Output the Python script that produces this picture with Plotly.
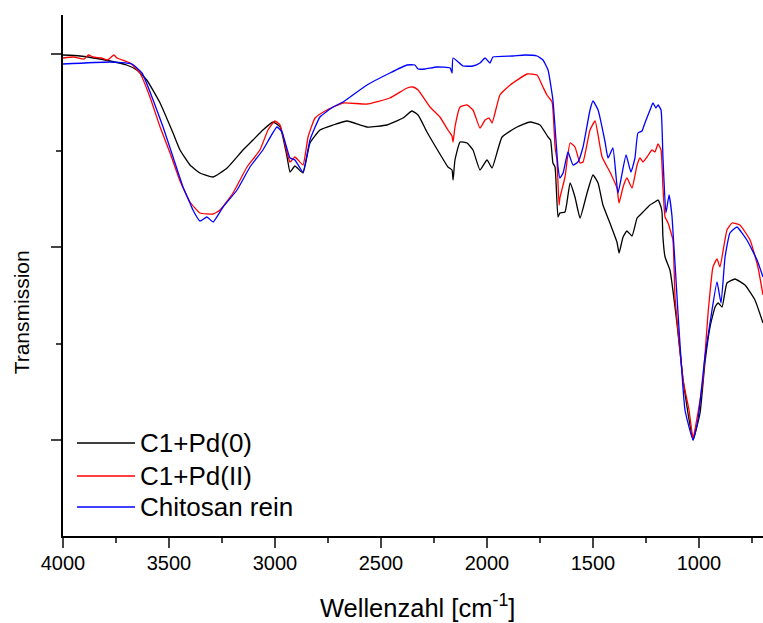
import plotly.graph_objects as go

# ---- data (wavenumber cm^-1, transmission in arbitrary units) ----
names = ["C1+Pd(0)", "C1+Pd(II)", "Chitosan rein"]
colors = ["#000000", "#ff0000", "#0000ff"]

wn_pd0 = [4000, 3920, 3778, 3700, 3652, 3605, 3542, 3481, 3448, 3401, 3354, 3292, 3226, 3151, 3104, 3057,
          3009, 2976, 2943, 2929, 2906, 2868, 2835, 2788, 2726, 2660, 2566, 2472, 2396, 2354, 2325, 2283,
          2222, 2184, 2165, 2160, 2151, 2127, 2094, 2066, 2033, 2000, 1976, 1929, 1858, 1797, 1750, 1712,
          1700, 1689, 1679, 1665, 1656, 1632, 1608, 1585, 1561, 1528, 1500, 1476, 1453, 1420, 1387, 1377,
          1358, 1340, 1316, 1292, 1278, 1264, 1231, 1208, 1193, 1179, 1174, 1170, 1160, 1137, 1104, 1075,
          1052, 1028, 995, 972, 948, 924, 910, 891, 868, 830, 783, 736, 698]
t_pd0 = [481, 480, 475, 471, 466, 456, 433, 403, 386, 371, 363, 359, 368, 386, 396, 406,
         414, 409, 379, 364, 370, 363, 393, 406, 411, 415, 409, 411, 418, 425, 421, 404,
         382, 369, 366, 356, 376, 394, 393, 386, 366, 376, 368, 399, 409, 414, 411, 399,
         396, 373, 369, 319, 323, 324, 353, 339, 318, 343, 361, 353, 331, 313, 294, 283,
         299, 305, 300, 318, 321, 324, 331, 334, 336, 329, 323, 299, 279, 266, 213, 156,
         123, 96, 123, 173, 209, 229, 233, 229, 253, 257, 251, 236, 213]

wn_pd2 = [4000, 3950, 3900, 3880, 3858, 3820, 3790, 3760, 3745, 3684, 3637, 3590, 3542, 3495, 3448, 3401,
          3354, 3292, 3259, 3198, 3132, 3071, 3033, 3000, 2976, 2943, 2929, 2906, 2868, 2844, 2811, 2755,
          2679, 2566, 2458, 2377, 2349, 2325, 2269, 2222, 2184, 2165, 2160, 2151, 2127, 2094, 2066, 2033,
          2009, 1990, 1976, 1939, 1891, 1811, 1764, 1736, 1717, 1693, 1679, 1670, 1660, 1656, 1632, 1608,
          1585, 1561, 1547, 1514, 1490, 1457, 1420, 1387, 1377, 1358, 1340, 1316, 1292, 1278, 1264, 1245,
          1222, 1208, 1193, 1179, 1170, 1160, 1146, 1123, 1113, 1075, 1047, 1028, 1005, 981, 957, 934,
          915, 901, 868, 844, 807, 759, 722, 698]
t_pd2 = [478, 479, 477, 481, 479, 478, 476, 481, 478, 473, 463, 439, 409, 383, 355, 334,
         323, 322, 326, 343, 369, 386, 406, 415, 411, 383, 374, 379, 371, 399, 418, 426,
         433, 432, 438, 448, 449, 446, 429, 419, 406, 400, 394, 409, 429, 431, 426, 408,
         416, 418, 413, 441, 451, 462, 461, 449, 441, 434, 389, 376, 331, 338, 359, 393,
         389, 373, 374, 406, 415, 379, 364, 348, 333, 349, 358, 348, 371, 378, 374, 379,
         386, 384, 392, 386, 349, 319, 313, 296, 239, 156, 126, 98, 123, 156, 223, 269,
         277, 269, 306, 313, 311, 296, 269, 241]

wn_chi = [4000, 3778, 3675, 3627, 3575, 3528, 3481, 3434, 3401, 3387, 3354, 3321, 3292, 3245, 3179, 3118,
          3057, 2991, 2967, 2929, 2906, 2868, 2835, 2788, 2726, 2679, 2566, 2458, 2377, 2340, 2325, 2292,
          2236, 2174, 2165, 2160, 2113, 2066, 2033, 2009, 1986, 1972, 1877, 1821, 1764, 1736, 1712, 1689,
          1665, 1656, 1641, 1618, 1594, 1571, 1547, 1514, 1500, 1476, 1443, 1429, 1406, 1382, 1344, 1321,
          1302, 1288, 1269, 1255, 1231, 1217, 1203, 1193, 1179, 1170, 1156, 1141, 1127, 1099, 1066, 1028,
          1005, 972, 948, 915, 896, 877, 854, 821, 774, 726, 698]
t_chi = [472, 474, 472, 463, 436, 409, 379, 349, 333, 326, 315, 319, 314, 329, 346, 369,
         386, 409, 404, 378, 376, 364, 396, 419, 429, 434, 451, 463, 471, 471, 467, 467,
         469, 468, 463, 478, 470, 470, 473, 478, 473, 479, 480, 481, 480, 476, 466, 436,
         369, 358, 363, 384, 371, 374, 389, 426, 435, 426, 394, 378, 388, 343, 381, 364,
         378, 403, 405, 413, 426, 433, 428, 431, 426, 379, 323, 341, 319, 223, 126, 96,
         116, 179, 213, 254, 233, 279, 303, 309, 296, 276, 259]

series_x = [wn_pd0, wn_pd2, wn_chi]
series_y = [t_pd0, t_pd2, t_chi]

x_range = [4000, 698]
x_ticks = [4000, 3500, 3000, 2500, 2000, 1500, 1000]

FONT = "Liberation Sans, Arial, sans-serif"

fig = go.Figure()
for name, col, xs, ys in zip(names, colors, series_x, series_y):
    fig.add_trace(go.Scatter(x=xs, y=ys, mode="lines", name=name,
                             line=dict(color=col, width=1.3, shape="spline", smoothing=0.4),
                             showlegend=False))

# custom legend (longer line samples, as in the original)
leg_y = [0.1785, 0.1152, 0.0557]
for name, col, yy in zip(names, colors, leg_y):
    fig.add_shape(type="line", xref="paper", yref="paper", x0=0.02, x1=0.1029, y0=yy, y1=yy,
                  line=dict(color=col, width=1.3))
    fig.add_annotation(xref="paper", yref="paper", x=0.107, y=yy, text=name, showarrow=False,
                       xanchor="left", yanchor="middle", font=dict(family=FONT, size=26, color="black"))

fig.add_annotation(xref="paper", yref="paper", x=-0.058, y=0.43, text="Transmission", textangle=-90,
                   showarrow=False, xanchor="center", yanchor="middle",
                   font=dict(family=FONT, size=21, color="black"))

fig.add_annotation(xref="paper", yref="paper", x=0.507, y=-0.135, text="Wellenzahl [cm<sup>-1</sup>]",
                   showarrow=False, xanchor="center", yanchor="middle",
                   font=dict(family=FONT, size=25.5, color="black"))

fig.update_layout(
    width=763, height=623,
    margin=dict(l=63, r=0, t=15, b=87),
    paper_bgcolor="white", plot_bgcolor="white",
    font=dict(family=FONT, color="black"),
    xaxis=dict(range=x_range, tickvals=x_ticks, ticks="outside", ticklen=10, tickwidth=1.5,
               showline=True, linewidth=2, linecolor="black", showgrid=False, zeroline=False,
               tickfont=dict(family=FONT, size=20), ticklabelstandoff=-2,
               minor=dict(dtick=250, ticks="outside", ticklen=5, tickwidth=1.5, showgrid=False)),
    yaxis=dict(range=[0, 521], tick0=96, dtick=193, ticks="outside", ticklen=10, tickwidth=1.5,
               showline=True, linewidth=2, linecolor="black", showgrid=False, zeroline=False,
               showticklabels=False,
               minor=dict(tick0=96, dtick=96.5, ticks="outside", ticklen=5, tickwidth=1.5, showgrid=False)),
)

fig.write_html("out.html", config={"displayModeBar": False},
               post_script="document.body.style.margin='0';document.body.style.overflow='hidden';")
